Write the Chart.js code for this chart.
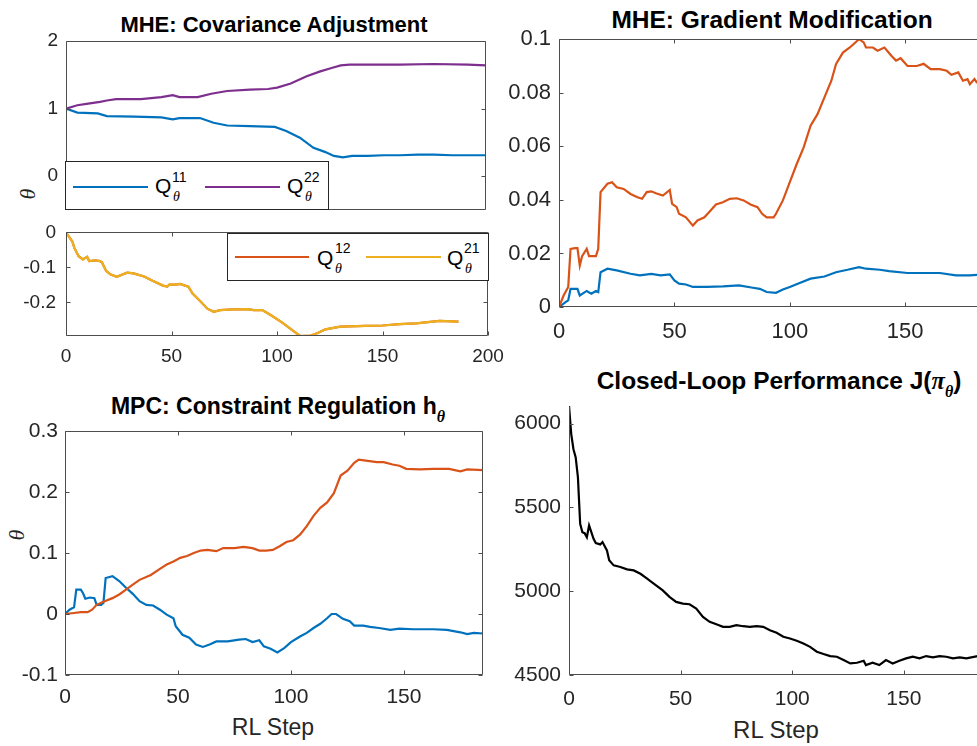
<!DOCTYPE html>
<html lang="en">
  <head>
    <meta charset="UTF-8" />
    <title>RL tuning of MHE / MPC</title>
    <script src="https://cdn.jsdelivr.net/npm/chart.js@4.4.1/dist/chart.umd.min.js"></script>
    <style>
      body { margin: 0; background: #fff; }
      #wrap {
        position: relative; width: 977px; height: 746px; overflow: hidden;
        font-family: "Liberation Sans", Arial, sans-serif; color: #000;
      }
      canvas { position: absolute; }
      .ttl {
        position: absolute; font-weight: bold; white-space: nowrap;
        line-height: 1; transform: translate(-50%, -50%);
      }
      .ttl .gr { font-family: "Liberation Serif", serif; font-style: italic; }
      .ttl .sb { font-family: "Liberation Serif", serif; font-style: italic; font-size: 16px; position: relative; top: 8px; }
      .xl { position: absolute; line-height: 1; color: #262626; transform: translate(-50%, -50%); white-space: nowrap; }
      .yl {
        position: absolute; line-height: 1; color: #262626; font-size: 22px;
        font-family: "Liberation Serif", serif; font-style: italic;
        transform: translate(-50%, -50%) rotate(-90deg);
      }
      .leg { position: absolute; border: 1px solid #262626; background: #fff; box-sizing: border-box; }
      .ln { position: absolute; height: 2px; }
      .q { position: absolute; font-size: 21px; line-height: 1; color: #000; }
      .sup { position: absolute; font-size: 14px; line-height: 1; color: #000; }
      .sub { position: absolute; font-size: 14px; line-height: 1; font-family: "Liberation Serif", serif; font-style: italic; }
    </style>
  </head>

  <body>
    <div id="wrap">
      <div class="ttl" style="left: 274px; top: 25px; font-size: 22px">MHE: Covariance Adjustment</div>
      <div class="ttl" style="left: 772px; top: 20px; font-size: 24.5px">MHE: Gradient Modification</div>
      <div class="ttl" style="left: 278px; top: 406px; font-size: 23px">MPC: Constraint Regulation h<span class="sb">θ</span></div>
      <div class="ttl" style="left: 779px; top: 381px; font-size: 24.5px">Closed-Loop Performance J(<span class="gr">π</span><span class="sb">θ</span>)</div>

      <div class="yl" style="left: 28px; top: 194px">θ</div>
      <div class="yl" style="left: 17px; top: 535px">θ</div>
      <div class="xl" style="left: 273px; top: 727px; font-size: 23px">RL Step</div>
      <div class="xl" style="left: 776px; top: 730px; font-size: 24px">RL Step</div>
    </div>

    <script>
      // tick positions
      const rlTicks = [0, 50, 100, 150];
      const rlTicksWide = [0, 50, 100, 150, 200];
      const covDiagTicks = [0, 1, 2];
      const covOffTicks = [-0.2, -0.1, 0];
      const gradTicks = [0, 0.02, 0.04, 0.06, 0.08, 0.1];
      const conTicks = [-0.1, 0, 0.1, 0.2, 0.3];
      const perfTicks = [4500, 5000, 5500, 6000];

      // MHE covariance, diagonal
      const q11Step = [0, 5, 14, 18, 30, 42, 47, 50, 59, 65, 71, 81, 92, 97, 103, 109, 114, 118, 122, 126, 133, 140, 147, 155, 162, 170, 177, 185];
      const q11 = [1.0, 0.94, 0.93, 0.89, 0.88, 0.87, 0.84, 0.86, 0.86, 0.79, 0.75, 0.74, 0.73, 0.67, 0.57, 0.42, 0.36, 0.3, 0.28, 0.3, 0.3, 0.31, 0.31, 0.32, 0.32, 0.31, 0.31, 0.31];
      const q22Step = [0, 5, 9, 15, 18, 22, 33, 42, 47, 50, 58, 64, 71, 81, 89, 93, 99, 106, 112, 117, 121, 125, 133, 147, 162, 177, 185];
      const q22 = [1.0, 1.05, 1.07, 1.1, 1.12, 1.14, 1.14, 1.17, 1.2, 1.17, 1.17, 1.22, 1.26, 1.28, 1.29, 1.31, 1.37, 1.48, 1.55, 1.6, 1.64, 1.65, 1.65, 1.65, 1.66, 1.65, 1.64];

      // MHE covariance, off-diagonal (Q is symmetric so Q12 sits under Q21)
      const q21Step = [0, 3, 4, 6, 8, 10, 11, 14, 16, 17, 19, 21, 24, 29, 32, 37, 41, 46, 48, 49, 52, 54, 58, 60, 64, 67, 70, 73, 79, 86, 89, 93, 97, 103, 108, 111, 116, 119, 123, 130, 142, 150, 158, 166, 177, 186];
      const q21 = [0, -0.026, -0.045, -0.068, -0.077, -0.07, -0.082, -0.08, -0.082, -0.085, -0.11, -0.12, -0.127, -0.115, -0.117, -0.126, -0.138, -0.152, -0.155, -0.149, -0.149, -0.147, -0.155, -0.175, -0.199, -0.218, -0.227, -0.222, -0.22, -0.219, -0.222, -0.222, -0.236, -0.26, -0.283, -0.296, -0.295, -0.288, -0.277, -0.269, -0.267, -0.266, -0.262, -0.26, -0.253, -0.255];
      const q12Step = q21Step;
      const q12 = q21;

      // MHE gradient modification
      const gradRedStep = [0, 2, 4, 5, 7, 8, 9, 10, 12, 13, 16, 17, 18, 21, 23, 25, 28, 31, 34, 36, 38, 40, 42, 45, 48, 49, 51, 52, 55, 58, 60, 63, 65, 68, 71, 74, 77, 80, 83, 86, 88, 90, 93, 94, 97, 100, 103, 106, 109, 112, 115, 118, 120, 123, 126, 130, 132, 133, 136, 138, 141, 144, 146, 148, 151, 155, 158, 161, 165, 168, 170, 173, 175, 177, 178, 180, 181, 185];
      const gradRed = [0, 0.0043, 0.0075, 0.0217, 0.022, 0.022, 0.0155, 0.019, 0.0217, 0.019, 0.019, 0.0217, 0.0429, 0.046, 0.0466, 0.0447, 0.0441, 0.0422, 0.041, 0.0404, 0.0429, 0.0432, 0.0425, 0.0416, 0.0437, 0.0385, 0.0373, 0.0348, 0.0335, 0.0304, 0.0323, 0.0335, 0.0354, 0.0383, 0.0391, 0.0404, 0.0406, 0.0398, 0.0383, 0.0373, 0.0348, 0.0335, 0.0335, 0.0348, 0.0398, 0.0466, 0.0534, 0.0596, 0.0677, 0.072, 0.0783, 0.0845, 0.0907, 0.095, 0.0969, 0.1, 0.0988, 0.0969, 0.0969, 0.0957, 0.0969, 0.0938, 0.092, 0.0929, 0.09, 0.09, 0.0908, 0.0888, 0.0888, 0.0882, 0.0867, 0.0876, 0.0845, 0.0851, 0.0832, 0.0851, 0.0839, 0.084];
      const gradBlueStep = [0, 3, 4, 5, 8, 9, 12, 14, 16, 17, 18, 21, 25, 31, 35, 40, 44, 48, 50, 52, 55, 58, 64, 71, 78, 84, 87, 90, 94, 97, 100, 104, 109, 115, 120, 125, 130, 133, 139, 143, 151, 158, 165, 172, 178, 181, 185];
      const gradBlue = [0, 0.0019, 0.0025, 0.0068, 0.0068, 0.0043, 0.006, 0.005, 0.006, 0.0056, 0.013, 0.0143, 0.0137, 0.0124, 0.0118, 0.0124, 0.0118, 0.0122, 0.0099, 0.0087, 0.0084, 0.0075, 0.0075, 0.0077, 0.0081, 0.0072, 0.0068, 0.0056, 0.0053, 0.0065, 0.0075, 0.0089, 0.0106, 0.0114, 0.013, 0.0139, 0.0149, 0.0143, 0.0139, 0.0134, 0.0127, 0.0127, 0.0127, 0.0118, 0.0118, 0.012, 0.012];

      // MPC constraint regulation
      const conRedStep = [0, 4, 7, 10, 12, 14, 17, 21, 24, 27, 30, 33, 38, 42, 45, 48, 51, 54, 57, 60, 63, 67, 70, 75, 79, 83, 86, 89, 92, 95, 98, 101, 104, 107, 110, 113, 116, 119, 122, 125, 128, 130, 134, 138, 141, 145, 148, 151, 157, 163, 170, 175, 178, 185];
      const conRed = [0, 0.0016, 0.003, 0.003, 0.007, 0.015, 0.02, 0.026, 0.032, 0.04, 0.048, 0.056, 0.064, 0.074, 0.081, 0.086, 0.092, 0.095, 0.1, 0.104, 0.105, 0.103, 0.108, 0.108, 0.11, 0.108, 0.104, 0.104, 0.105, 0.111, 0.118, 0.121, 0.13, 0.144, 0.161, 0.174, 0.183, 0.198, 0.227, 0.235, 0.248, 0.253, 0.251, 0.249, 0.249, 0.245, 0.243, 0.238, 0.237, 0.238, 0.238, 0.234, 0.237, 0.236];
      const conBlueStep = [0, 2, 4, 5, 7, 8, 9, 11, 13, 14, 16, 17, 18, 21, 24, 27, 30, 33, 36, 39, 42, 45, 48, 49, 52, 55, 58, 61, 64, 67, 72, 77, 80, 83, 86, 88, 91, 94, 97, 100, 104, 107, 110, 113, 116, 118, 120, 123, 126, 128, 132, 135, 139, 144, 148, 154, 163, 169, 175, 178, 181, 185];
      const conBlue = [0, 0.007, 0.011, 0.04, 0.04, 0.034, 0.025, 0.027, 0.026, 0.015, 0.015, 0.018, 0.059, 0.062, 0.054, 0.043, 0.033, 0.021, 0.015, 0.014, 0.007, -0.001, -0.007, -0.02, -0.034, -0.039, -0.05, -0.054, -0.05, -0.045, -0.045, -0.042, -0.041, -0.046, -0.043, -0.053, -0.057, -0.063, -0.056, -0.046, -0.037, -0.031, -0.023, -0.016, -0.007, 0, 0, -0.008, -0.012, -0.019, -0.019, -0.021, -0.023, -0.026, -0.024, -0.025, -0.025, -0.026, -0.03, -0.033, -0.031, -0.032];

      // closed-loop cost J
      const perfStep = [0, 1, 2, 3, 4, 5, 6, 7, 8, 9, 11, 12, 14, 15, 17, 18, 20, 23, 26, 29, 32, 35, 36, 39, 42, 45, 48, 51, 54, 57, 60, 63, 66, 69, 72, 75, 78, 81, 84, 87, 90, 93, 96, 99, 102, 105, 108, 111, 114, 117, 120, 123, 126, 129, 132, 133, 136, 139, 142, 145, 148, 151, 154, 157, 160, 163, 166, 169, 172, 175, 178, 183, 185];
      const perf = [6105, 5937, 5847, 5798, 5679, 5402, 5352, 5346, 5322, 5392, 5312, 5287, 5279, 5293, 5243, 5184, 5154, 5144, 5130, 5124, 5104, 5075, 5065, 5035, 5005, 4966, 4936, 4926, 4922, 4896, 4847, 4817, 4803, 4787, 4787, 4797, 4791, 4787, 4791, 4787, 4767, 4752, 4728, 4718, 4704, 4688, 4668, 4639, 4625, 4613, 4609, 4589, 4569, 4573, 4585, 4559, 4573, 4559, 4589, 4569, 4585, 4599, 4609, 4599, 4613, 4605, 4613, 4609, 4599, 4605, 4599, 4613, 4610];

      const blue = "#0072BD";
      const red = "#D95319";
      const yellow = "#EDB120";
      const purple = "#7E2F8E";

      // box + inward tick marks like matlab
      const matlabAxes = {
        id: "matlabAxes",
        afterDatasetsDraw(chart, args, o) {
          const ctx = chart.ctx;
          const a = chart.chartArea;
          const sx = chart.scales.x, sy = chart.scales.y;
          const L = Math.round(a.left) + 0.5, R = Math.round(a.right) - 0.5;
          const T = Math.round(a.top) + 0.5, B = Math.round(a.bottom) - 0.5;
          ctx.save();
          ctx.strokeStyle = "#4d4d4d";
          ctx.lineWidth = 1;
          ctx.beginPath();
          if (o.box) {
            ctx.rect(L, T, R - L, B - T);
          } else {
            ctx.moveTo(L, T); ctx.lineTo(L, B); ctx.lineTo(R, B);
          }
          const tl = 4;
          sx.ticks.forEach((t) => {
            const p = Math.round(sx.getPixelForValue(t.value)) + 0.5;
            ctx.moveTo(p, B); ctx.lineTo(p, B - tl);
            if (o.box) { ctx.moveTo(p, T); ctx.lineTo(p, T + tl); }
          });
          sy.ticks.forEach((t) => {
            const p = Math.round(sy.getPixelForValue(t.value)) + 0.5;
            ctx.moveTo(L, p); ctx.lineTo(L + tl, p);
            if (o.box) { ctx.moveTo(R, p); ctx.lineTo(R - tl, p); }
          });
          ctx.stroke();
          ctx.restore();
        },
      };

      function pts(xs, ys) {
        return xs.map((x, i) => ({ x: x, y: ys[i] }));
      }

      // k = draw order, higher k ends up on top (like plotting later in matlab)
      function line(xs, ys, color, k) {
        return { data: pts(xs, ys), borderColor: color, borderWidth: 2.2, pointRadius: 0, tension: 0, fill: false, order: -(k || 0) };
      }

      const PADT = 20, PADR = 30, YW = 70, XH = 50;

      // r = plot area in page pixels
      function make(r, c) {
        const cv = document.createElement("canvas");
        cv.width = YW + r.w + PADR;
        cv.height = PADT + r.h + XH;
        cv.style.left = r.l - YW + "px";
        cv.style.top = r.t - PADT + "px";
        document.getElementById("wrap").appendChild(cv);
        const font = { family: "Liberation Sans", size: c.fs };
        return new Chart(cv, {
          type: "line",
          data: { datasets: c.datasets },
          plugins: [matlabAxes],
          options: {
            responsive: false,
            animation: false,
            layout: { autoPadding: false, padding: { top: PADT, right: PADR, left: 0, bottom: 0 } },
            plugins: { legend: { display: false }, tooltip: { enabled: false }, matlabAxes: { box: c.box } },
            scales: {
              x: {
                type: "linear", min: c.xmin, max: c.xmax,
                grid: { display: false, drawTicks: false }, border: { display: false },
                afterFit: (s) => { s.height = XH; },
                afterBuildTicks: (s) => { s.ticks = c.xt.map((v) => ({ value: v })); },
                ticks: { padding: c.xpad, color: "#262626", font: font, maxRotation: 0, autoSkip: false, callback: (v) => String(v) },
              },
              y: {
                type: "linear", min: c.ymin, max: c.ymax,
                grid: { display: false, drawTicks: false }, border: { display: false },
                afterFit: (s) => { s.width = YW; },
                afterBuildTicks: (s) => { s.ticks = c.yt.map((v) => ({ value: v })); },
                ticks: { padding: c.ypad, color: "#262626", font: font, autoSkip: false, callback: (v) => String(v) },
              },
            },
          },
        });
      }

      make({ l: 66, t: 41, w: 420, h: 169 }, {
        fs: 19, box: true, xmin: 0, xmax: 185, ymin: -0.5, ymax: 2, xt: [], yt: covDiagTicks, xpad: 8, ypad: 8,
        datasets: [line(q11Step, q11, blue, 0), line(q22Step, q22, purple, 1)],
      });
      make({ l: 66, t: 231, w: 422, h: 105 }, {
        fs: 19, box: true, xmin: 0, xmax: 200, ymin: -0.296, ymax: 0, xt: rlTicksWide, yt: covOffTicks, xpad: 9, ypad: 10,
        datasets: [line(q12Step, q12, red, 0), line(q21Step, q21, yellow, 1)],
      });
      make({ l: 559, t: 38, w: 427, h: 269 }, {
        fs: 22, box: true, xmin: 0, xmax: 185, ymin: 0, ymax: 0.1, xt: rlTicks, yt: gradTicks, xpad: 12, ypad: 8,
        datasets: [line(gradBlueStep, gradBlue, blue, 0), line(gradRedStep, gradRed, red, 1)],
      });
      make({ l: 65, t: 431, w: 418, h: 244 }, {
        fs: 21, box: true, xmin: 0, xmax: 185, ymin: -0.1, ymax: 0.3, xt: rlTicks, yt: conTicks, xpad: 10, ypad: 7,
        datasets: [line(conBlueStep, conBlue, blue, 0), line(conRedStep, conRed, red, 1)],
      });
      make({ l: 569, t: 405, w: 413, h: 270 }, {
        fs: 21, box: false, xmin: 0, xmax: 185, ymin: 4500, ymax: 6107, xt: rlTicks, yt: perfTicks, xpad: 12, ypad: 8,
        datasets: [line(perfStep, perf, "#000000", 0)],
      });
    </script>

    <!-- legends sit above the canvases -->
    <script>
      const legHtml = `
        <div class="leg" style="left:65px;top:161px;width:264px;height:49px"></div>
        <div class="ln" style="left:73px;top:186px;width:75px;background:${blue}"></div>
        <div class="q" style="left:155px;top:175px">Q</div>
        <div class="sup" style="left:172px;top:170px">11</div>
        <div class="sub" style="left:173px;top:190px">θ</div>
        <div class="ln" style="left:205px;top:186px;width:75px;background:${purple}"></div>
        <div class="q" style="left:287px;top:175px">Q</div>
        <div class="sup" style="left:304px;top:170px">22</div>
        <div class="sub" style="left:305px;top:190px">θ</div>

        <div class="leg" style="left:227px;top:233px;width:262px;height:48px"></div>
        <div class="ln" style="left:235px;top:256px;width:74px;background:${red}"></div>
        <div class="q" style="left:317px;top:247px">Q</div>
        <div class="sup" style="left:335px;top:241px">12</div>
        <div class="sub" style="left:335px;top:262px">θ</div>
        <div class="ln" style="left:366px;top:256px;width:75px;background:${yellow}"></div>
        <div class="q" style="left:447px;top:247px">Q</div>
        <div class="sup" style="left:464px;top:241px">21</div>
        <div class="sub" style="left:465px;top:262px">θ</div>`;
      document.getElementById("wrap").insertAdjacentHTML("beforeend", legHtml);
    </script>
  </body>
</html>
